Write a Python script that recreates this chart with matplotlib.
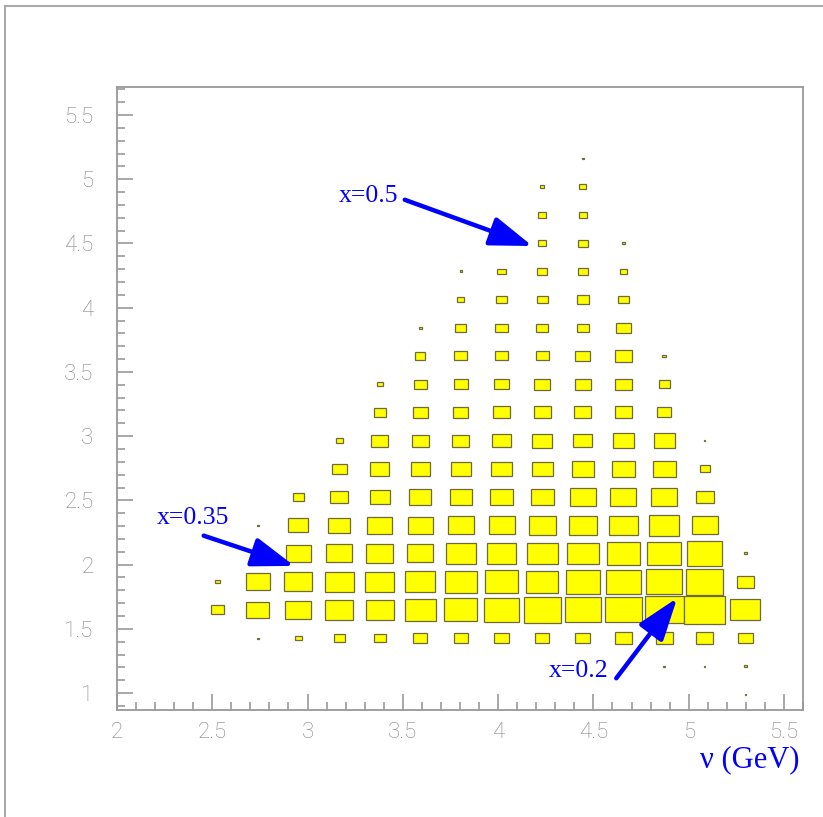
'''
Box plot of the kinematic coverage (nu vs Q2) with arrows marking x-lines
'''

import numpy as np
import matplotlib
matplotlib.use('Agg')
import matplotlib.pyplot as plt
from matplotlib.patches import Rectangle
from matplotlib.lines import Line2D


## Bin centres, nu in GeV (columns) and Q2 (rows, bottom to top)
nu_bins = [2.526, 2.739, 2.952, 3.166, 3.379, 3.592, 3.805,
           4.018, 4.232, 4.445, 4.658, 4.871, 5.084, 5.298]
q2_bins = [0.989, 1.208, 1.428, 1.648, 1.867, 2.087, 2.306, 2.526, 2.745, 2.965,
           3.185, 3.404, 3.624, 3.843, 4.063, 4.282, 4.502, 4.722, 4.941, 5.161]
nu_width = 0.2132
q2_width = 0.2196

## Box size in percent of the bin, one list per Q2 row (same order as q2_bins)
box_size = [
    [0, 0, 0, 0, 0, 0, 0, 0, 0, 0, 0, 0, 0, 4],
    [0, 0, 0, 0, 0, 0, 0, 0, 0, 0, 0, 4, 4, 7],
    [0, 4, 17, 27, 30, 35, 35, 35, 35, 37, 40, 42, 42, 37],
    [32, 57, 64, 69, 69, 77, 81, 86, 91, 89, 89, 96, 101, 74],
    [12, 59, 69, 72, 72, 74, 79, 81, 79, 84, 84, 89, 91, 42],
    [0, 12, 62, 64, 67, 64, 72, 72, 77, 77, 79, 84, 86, 7],
    [0, 4, 49, 54, 62, 62, 64, 64, 67, 69, 69, 74, 64, 0],
    [0, 0, 27, 44, 49, 54, 54, 57, 57, 62, 64, 64, 44, 0],
    [0, 0, 0, 37, 47, 47, 49, 52, 52, 54, 57, 57, 25, 0],
    [0, 0, 0, 17, 42, 42, 42, 47, 49, 47, 52, 52, 4, 0],
    [0, 0, 0, 0, 30, 37, 37, 42, 42, 42, 42, 35, 0, 0],
    [0, 0, 0, 0, 15, 32, 35, 37, 40, 40, 40, 27, 0, 0],
    [0, 0, 0, 0, 0, 25, 32, 32, 32, 37, 40, 10, 0, 0],
    [0, 0, 0, 0, 0, 7, 27, 30, 30, 30, 35, 0, 0, 0],
    [0, 0, 0, 0, 0, 0, 17, 27, 27, 30, 25, 0, 0, 0],
    [0, 0, 0, 0, 0, 0, 7, 20, 25, 25, 15, 0, 0, 0],
    [0, 0, 0, 0, 0, 0, 0, 0, 20, 25, 7, 0, 0, 0],
    [0, 0, 0, 0, 0, 0, 0, 0, 20, 20, 0, 0, 0, 0],
    [0, 0, 0, 0, 0, 0, 0, 0, 10, 17, 0, 0, 0, 0],
    [0, 0, 0, 0, 0, 0, 0, 0, 0, 4, 0, 0, 0, 0],
]

## Arrow annotations: label, text position, arrow start, arrow tip
x_labels = ['x=0.5', 'x=0.35', 'x=0.2']
label_pos = [(3.32, 4.87), (2.40, 2.36), (4.42, 1.17)]
arrow_from = [(3.51, 4.84), (2.455, 2.225), (4.62, 1.115)]
arrow_to = [(4.18, 4.48), (2.93, 1.99), (4.94, 1.74)]


fig = plt.figure(figsize=(8.23, 8.17), dpi=100)
ax = fig.add_axes([117/823, 1-710/817, 686/823, 623/817])

## Draw the boxes
for j, yc in enumerate(q2_bins):
    for i, xc in enumerate(nu_bins):
        s = box_size[j][i] / 100.
        if s <= 0:
            continue
        w = s * nu_width
        h = s * q2_width
        ax.add_patch(Rectangle((xc - w/2, yc - h/2), w, h, facecolor='#ffff00',
                               edgecolor='#6f6a3a', lw=0.9, zorder=2))

## Arrows and their labels
for lab, tp, a0, a1 in zip(x_labels, label_pos, arrow_from, arrow_to):
    ax.text(tp[0], tp[1], lab, color='#0000ff', fontsize=18.5, family='Liberation Serif',
            ha='center', va='center', zorder=4)
    ax.annotate('', xy=a1, xytext=a0,
                arrowprops=dict(arrowstyle='-|>,head_length=1.3,head_width=0.45',
                                color='#0000ff', lw=3.2, mutation_scale=20,
                                shrinkA=0, shrinkB=0), zorder=4)

## Tidy things up, ROOT style axes
ax.set_xlim(2.0, 5.6)
ax.set_ylim(0.868, 5.718)
ax.set_xticks([2, 2.5, 3, 3.5, 4, 4.5, 5, 5.5])
ax.set_xticklabels(['2', '2.5', '3', '3.5', '4', '4.5', '5', '5.5'])
ax.set_yticks([1, 1.5, 2, 2.5, 3, 3.5, 4, 4.5, 5, 5.5])
ax.set_yticklabels(['1', '1.5', '2', '2.5', '3', '3.5', '4', '4.5', '5', '5.5'])
ax.set_xticks(np.arange(2.0, 5.61, 0.1), minor=True)
ax.set_yticks(np.arange(0.9, 5.71, 0.1), minor=True)
ax.tick_params(which='both', direction='in', color='#999999', width=1.2,
               top=False, right=False)
ax.tick_params(which='major', length=11.5, labelsize=16, labelcolor='#858585')
ax.tick_params(which='minor', length=5.8)
ax.tick_params(axis='y', pad=17)
ax.tick_params(axis='x', pad=9)
for lbl in ax.get_xticklabels() + ax.get_yticklabels():
    lbl.set_family('Roboto')
    lbl.set_weight('light')
for sp in ax.spines.values():
    sp.set_color('#999999')
    sp.set_linewidth(1.3)

fig.text(800/823, 1-760/817, u'\u03bd (GeV)', color='#0000ff', fontsize=22,
         family='Liberation Serif', ha='right', va='center')

## Outer canvas frame (left and top edges)
fig.add_artist(Line2D([5/823, 5/823], [0, 1-6/817], color='#aaaaaa', lw=1.5))
fig.add_artist(Line2D([5/823, 1], [1-6/817, 1-6/817], color='#aaaaaa', lw=1.5))

fig.savefig('out.png', dpi=100)
